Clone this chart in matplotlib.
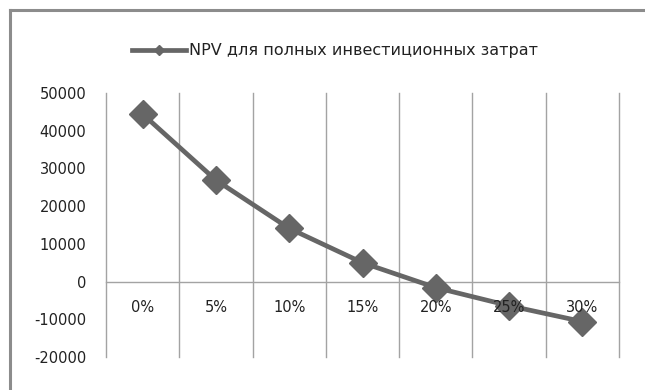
import matplotlib.pyplot as plt
from matplotlib.lines import Line2D

rates = ['0%', '5%', '10%', '15%', '20%', '25%', '30%']
npv = [44400, 26900, 14100, 5000, -1600, -6400, -10600]
series_name = 'NPV для полных инвестиционных затрат'

plt.rcParams['font.family'] = ['DejaVu Sans']

fig = plt.figure(figsize=(6.45, 3.9), dpi=100)
W, H = 645, 390
# plot area: x 106..619, y 93..357 (pixels)
ax = fig.add_axes([106 / W, 1 - 357 / H, (619 - 106) / W, (357 - 93) / H])

x = list(range(len(rates)))
ax.plot(x, npv, color='#666666', linewidth=3.4, marker='D', markersize=14,
        markerfacecolor='#666666', markeredgecolor='#666666', zorder=3)

ax.set_xlim(-0.5, len(rates) - 0.5)
ax.set_ylim(-20000, 50000)
ax.set_yticks(range(-20000, 50001, 10000))
ax.set_yticklabels([str(v) for v in range(-20000, 50001, 10000)], fontsize=10.5)
ax.tick_params(axis='y', length=0, pad=14, labelcolor='#222222')
ax.set_xticks([])

# vertical gridlines at category boundaries
for b in range(len(rates) + 1):
    ax.axvline(b - 0.5, color='#a3a3a3', linewidth=1, zorder=1, clip_on=False)
ax.axhline(0, color='#a3a3a3', linewidth=1, zorder=1, clip_on=False)

# category labels just below the zero line
for i, r in enumerate(rates):
    ax.text(i, -7000, r, ha='center', va='center', fontsize=10.5, color='#222222', zorder=4)

for s in ax.spines.values():
    s.set_visible(False)

# legend
handle = Line2D([], [], color='#666666', linewidth=3.4, marker='D', markersize=5)
fig.legend([handle], [series_name], loc='center', bbox_to_anchor=(335 / W, 1 - 51 / H),
           frameon=False, fontsize=11.5, handlelength=3.4, handletextpad=0.2,
           labelcolor='#222222')

# outer chart border (top and left visible)
fig.add_artist(Line2D([10 / W, 1], [1 - 10 / H, 1 - 10 / H], color='#8c8c8c', linewidth=2.2))
fig.add_artist(Line2D([10 / W, 10 / W], [0, 1 - 10 / H], color='#8c8c8c', linewidth=2.2))

fig.savefig('out.png', dpi=100)
